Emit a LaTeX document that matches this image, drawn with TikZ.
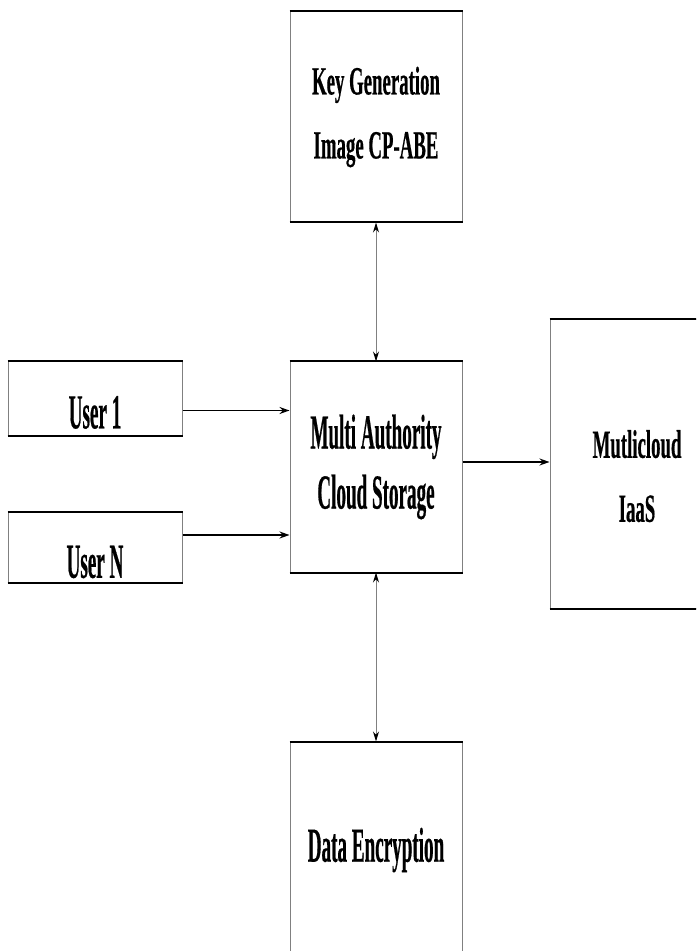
\documentclass[tikz,border=0pt]{standalone}
\usepackage{fontspec}
\setmainfont{Liberation Serif}
\newfontfamily\tallfont{Liberation Serif}[FakeStretch=0.39, BoldFeatures={FakeBold=0.4}]
\newfontfamily\shortfont{Liberation Serif}[FakeStretch=0.47, BoldFeatures={FakeBold=0.4}]
\usetikzlibrary{arrows.meta}

\tikzset{
	block/.style={draw=gray, line width=0.5pt, minimum width=86pt, minimum height=105pt, inner sep=0pt, align=center},
	tall/.style={font=\tallfont\bfseries\fontsize{24.5}{30}\selectfont},
	short/.style={font=\shortfont\bfseries\fontsize{20}{32}\selectfont},
	rim/.style={line width=1pt, black},
	feed/.style={line width=0.8pt, -{Stealth[length=5pt,width=3.5pt]}},
	twoway/.style={gray, line width=0.5pt, {Stealth[length=5pt,width=3pt,color=black]}-{Stealth[length=5pt,width=3pt,color=black]}}
}

\begin{document}
\begin{tikzpicture}[x=0.5pt, y=-0.5pt]
		\useasboundingbox (0,0) rectangle (696,951);
		\clip (0,0) rectangle (696,951);
		
		\node[block, short] (keygen) at (376, 117) {Key Generation\\Image CP-ABE};
		\node[block, tall] (core) at (376, 467) {Multi Authority\\Cloud Storage};
		\node[block, tall, minimum width=87pt, minimum height=36.5pt] (user1) at (95, 398.5) {\raisebox{-7pt}[\height][\depth]{User 1}};
		\node[block, tall, minimum width=87pt, minimum height=35pt] (usern) at (95, 547) {\raisebox{-7.5pt}[\height][\depth]{User N}};
		\node[block, short, minimum width=87pt, minimum height=144pt] (cloud) at (637, 464) {\\[-6pt]Mutlicloud\\IaaS};
		\node[block, tall, minimum height=108pt] (enc) at (376, 850) {Data Encryption};
		
		% top and bottom edges of the boxes
		\foreach \b in {keygen, core, user1, usern, cloud, enc} {
			\draw[rim] (\b.north west) -- (\b.north east);
			\draw[rim] (\b.south west) -- (\b.south east);
		}
		
		\coordinate (u1out) at ([yshift=-6pt]user1.east);
		\coordinate (unout) at ([yshift=6pt]usern.east);
		\coordinate (coreout) at ([yshift=2.5pt]core.east);
		
		\draw[feed] (u1out) -- (u1out -| core.west);
		\draw[feed] (unout) -- (unout -| core.west);
		\draw[feed] (coreout) -- (coreout -| cloud.west);
		
		\draw[twoway] (keygen.south) -- (core.north);
		\draw[twoway] (core.south) -- (enc.north);
\end{tikzpicture}
\end{document}
